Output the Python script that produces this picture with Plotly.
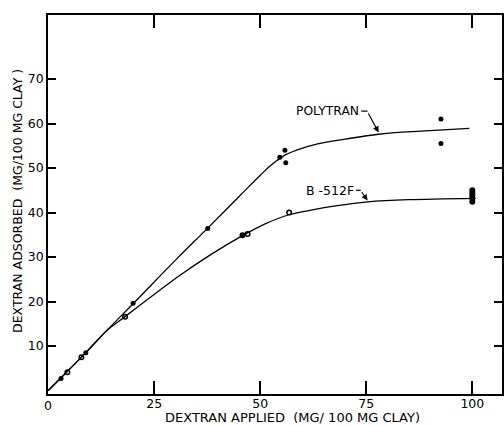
import plotly.graph_objects as go

# Fitted curves
poly_curve_x = [0, 4, 8.85, 13.7, 20, 30, 37.6, 45, 50, 53, 56, 60, 65, 70, 77.9, 82.6, 90, 99.3]
poly_curve_y = [0, 3.8, 8.5, 13.4, 19.5, 29.3, 36.5, 43.6, 48.4, 51.0, 53.0, 54.5, 55.7, 56.5, 57.6, 58.0, 58.4, 58.9]
b_curve_x = [0, 4, 8.85, 13.7, 18.1, 24, 30.9, 38.4, 45.8, 51, 56.8, 63.8, 70, 75.3, 85, 100.8]
b_curve_y = [0, 3.8, 8.5, 13.4, 16.6, 20.9, 25.8, 30.6, 34.8, 37.4, 39.5, 40.9, 41.8, 42.4, 42.9, 43.2]

# Observed points
poly_x = [3, 8.85, 20, 37.6, 54.6, 55.8, 56, 92.6, 92.6]
poly_y = [2.7, 8.5, 19.6, 36.4, 52.4, 54.0, 51.2, 61.0, 55.5]
b_x = [4.5, 7.8, 18.1, 45.8, 47.0, 56.8, 100, 100, 100, 100, 100]
b_y = [4.1, 7.45, 16.6, 34.9, 35.2, 40.0, 45.0, 44.4, 43.8, 43.2, 42.4]
b_sym = ["circle-open", "circle-open", "circle-open", "circle", "circle-open", "circle-open",
         "circle", "circle", "circle", "circle", "circle"]

x_ticks = [25, 50, 75, 100]
y_ticks = [10, 20, 30, 40, 50, 60, 70]

FONT = "DejaVu Sans"

fig = go.Figure()
fig.add_trace(go.Scatter(x=poly_curve_x, y=poly_curve_y, mode="lines",
                         line=dict(color="black", width=1.3, shape="spline", smoothing=1.2),
                         hoverinfo="skip"))
fig.add_trace(go.Scatter(x=b_curve_x, y=b_curve_y, mode="lines",
                         line=dict(color="black", width=1.3, shape="spline", smoothing=0.8),
                         hoverinfo="skip"))
fig.add_trace(go.Scatter(x=poly_x, y=poly_y, mode="markers",
                         marker=dict(symbol="circle", size=5, color="black")))
fig.add_trace(go.Scatter(x=b_x, y=b_y, mode="markers",
                         marker=dict(symbol=b_sym, size=4.5, color="black",
                                     line=dict(color="black", width=1.5))))

fig.update_layout(
    width=504, height=426,
    margin=dict(l=48, r=0, t=15, b=32),
    paper_bgcolor="white", plot_bgcolor="white",
    showlegend=False,
    font=dict(family=FONT, size=12.5, color="black"),
)
fig.update_xaxes(range=[-0.07, 107], tickvals=x_ticks, ticks="inside", ticklen=13,
                 tickwidth=1.5, tickcolor="black", showline=True, linecolor="black",
                 linewidth=1.5, mirror="ticks", showgrid=False, zeroline=False,
                 ticklabelstandoff=-3,
                 tickfont=dict(family=FONT, size=12.5))
fig.update_yaxes(range=[-0.79, 84.4], tickvals=y_ticks, ticks="inside", ticklen=8,
                 tickwidth=1.5, tickcolor="black", showline=True, linecolor="black",
                 linewidth=1.5, mirror="ticks", showgrid=False, zeroline=False,
                 tickfont=dict(family=FONT, size=12.5))

ann = []
ann.append(dict(text="0", xref="paper", x=-0.0138, yref="paper", y=0, yanchor="top",
                yshift=-2, showarrow=False, font=dict(size=12.5)))
ann.append(dict(text="DEXTRAN APPLIED  (MG/ 100 MG CLAY)", xref="paper", x=0.539,
                yref="paper", y=-0.0625, xanchor="center", yanchor="middle",
                showarrow=False, font=dict(size=13)))
ann.append(dict(text="DEXTRAN ADSORBED  (MG/100 MG CLAY )", xref="paper", x=-0.0686,
                yref="paper", y=0.509, xanchor="center", yanchor="middle", textangle=-90,
                showarrow=False, font=dict(size=12.5)))
ann.append(dict(text="POLYTRAN", x=73.7, y=62.8, xanchor="right", yanchor="middle",
                showarrow=False, font=dict(size=12.3)))
ann.append(dict(text="B -512F", x=72.5, y=45.0, xanchor="right", yanchor="middle",
                showarrow=False, font=dict(size=12.5)))
ann.append(dict(text="", x=77.9, y=58.0, ax=75.3, ay=62.6, axref="x", ayref="y",
                showarrow=True, arrowhead=2, arrowsize=1, arrowwidth=1.2, arrowcolor="black",
                standoff=0))
ann.append(dict(text="", x=75.3, y=42.7, ax=73.7, ay=44.9, axref="x", ayref="y",
                showarrow=True, arrowhead=2, arrowsize=1, arrowwidth=1.2, arrowcolor="black",
                standoff=0))
fig.update_layout(annotations=ann)

fig.add_shape(type="line", x0=73.8, x1=75.3, y0=62.8, y1=62.8, xref="x", yref="y",
              line=dict(color="black", width=1.2))
fig.add_shape(type="line", x0=72.6, x1=73.7, y0=45.0, y1=45.0, xref="x", yref="y",
              line=dict(color="black", width=1.2))

fig.write_html("out.html", config={"displayModeBar": False},
               post_script="document.body.style.margin='0';document.body.style.overflow='hidden';")
